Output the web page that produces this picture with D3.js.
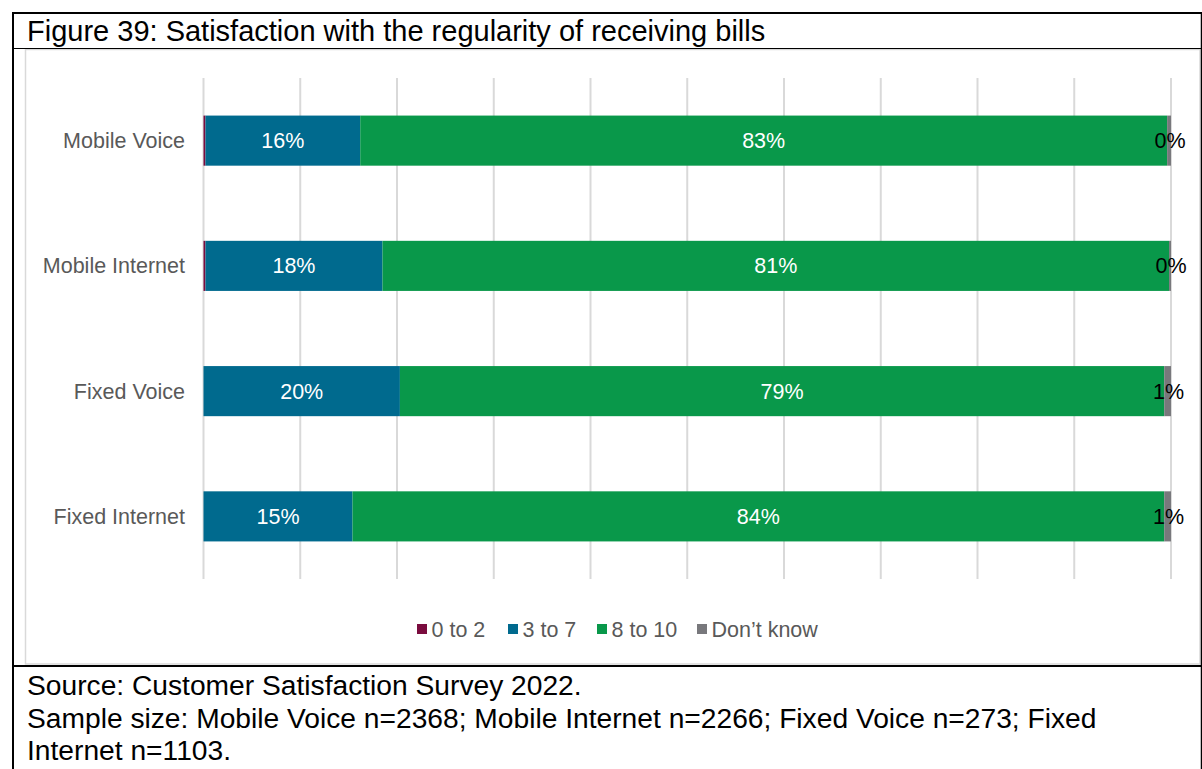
<!DOCTYPE html>
<html>
<head>
<meta charset="utf-8">
<script src="https://cdn.jsdelivr.net/npm/d3@7"></script>
<style>
  html, body { margin: 0; padding: 0; background: #fff; }
  svg { display: block; font-family: "Liberation Sans", Arial, sans-serif; }
</style>
</head>
<body>
<svg id="chart" width="1202" height="769"></svg>
<script>
// ---- data ----
const categories = ["Mobile Voice", "Mobile Internet", "Fixed Voice", "Fixed Internet"];
const seriesNames = ["0 to 2", "3 to 7", "8 to 10", "Don\u2019t know"];
const series0to2   = [0.2, 0.2, 0.0, 0.0];
const series3to7   = [16.0, 18.3, 20.3, 15.4];
const series8to10  = [83.4, 81.3, 79.0, 83.9];
const seriesDK     = [0.4, 0.2, 0.7, 0.7];
const xTicks = [0, 10, 20, 30, 40, 50, 60, 70, 80, 90, 100];
const titleText = "Figure 39: Satisfaction with the regularity of receiving bills";
const footerLines = [
  "Source: Customer Satisfaction Survey 2022.",
  "Sample size: Mobile Voice n=2368; Mobile Internet n=2266; Fixed Voice n=273; Fixed",
  "Internet n=1103."
];

const colors = ["#7a0c3e", "#006a8e", "#09984a", "#78787c"];
const labelColors = [null, "#ffffff", "#ffffff", "#000000"];

const svg = d3.select("#chart");

// frame
svg.append("rect").attr("x", 0).attr("y", 0).attr("width", 1202).attr("height", 769).attr("fill", "#fff");
// chart area light border
svg.append("rect").attr("x", 25.5).attr("y", 49.5).attr("width", 1174.5).attr("height", 614.5)
  .attr("fill", "none").attr("stroke", "#d9d9d9").attr("stroke-width", 1.5);
// black table lines
const black = "#000";
svg.append("line").attr("x1", 12).attr("x2", 1202).attr("y1", 13).attr("y2", 13).attr("stroke", black).attr("stroke-width", 2);
svg.append("line").attr("x1", 12).attr("x2", 1202).attr("y1", 48.5).attr("y2", 48.5).attr("stroke", black).attr("stroke-width", 1.2);
svg.append("line").attr("x1", 12).attr("x2", 1202).attr("y1", 666).attr("y2", 666).attr("stroke", black).attr("stroke-width", 2);
svg.append("line").attr("x1", 13).attr("x2", 13).attr("y1", 12).attr("y2", 769).attr("stroke", black).attr("stroke-width", 2);
svg.append("line").attr("x1", 1201.5).attr("x2", 1201.5).attr("y1", 12).attr("y2", 769).attr("stroke", black).attr("stroke-width", 1.5);

// title
svg.append("text").attr("x", 27).attr("y", 41).attr("font-size", 29).attr("fill", "#000").text(titleText);

// footer
footerLines.forEach((t, i) => {
  svg.append("text").attr("x", 27).attr("y", 695 + i * 32.5).attr("font-size", 28.2).attr("fill", "#000").text(t);
});

// scales
const x = d3.scaleLinear().domain([0, 100]).range([203.5, 1171]);
const y = d3.scaleBand().domain(categories).range([78, 579]).paddingInner(0.6).paddingOuter(0.3);

// gridlines
svg.append("g").selectAll("line").data(xTicks).join("line")
  .attr("x1", d => x(d)).attr("x2", d => x(d))
  .attr("y1", 78).attr("y2", 579)
  .attr("stroke", "#d9d9d9").attr("stroke-width", 2);

// stack
const rows = categories.map((c, i) => ({
  cat: c,
  "0 to 2": series0to2[i], "3 to 7": series3to7[i], "8 to 10": series8to10[i], "Don\u2019t know": seriesDK[i]
}));
const stacked = d3.stack().keys(seriesNames)(rows);

const g = svg.append("g");
stacked.forEach((s, si) => {
  const sg = g.append("g");
  sg.selectAll("rect").data(s).join("rect")
    .attr("x", d => x(d[0]))
    .attr("y", d => y(d.data.cat))
    .attr("width", d => Math.max(0, x(d[1]) - x(d[0])))
    .attr("height", y.bandwidth())
    .attr("fill", colors[si]);
  if (labelColors[si]) {
    sg.selectAll("text").data(s).join("text")
      .attr("x", d => (x(d[0]) + x(d[1])) / 2 + (si === 3 ? 1 : 0))
      .attr("y", d => y(d.data.cat) + y.bandwidth() / 2 + 7.5)
      .attr("text-anchor", "middle")
      .attr("font-size", 21.5)
      .attr("fill", labelColors[si])
      .text(d => Math.round(d[1] - d[0]) + "%");
  }
});

// category axis labels
const yAxis = d3.axisLeft(y).tickSize(0).tickPadding(0);
const ya = svg.append("g").attr("transform", "translate(185,0)").call(yAxis);
ya.select(".domain").remove();
ya.selectAll("text").attr("font-size", 21.5).attr("fill", "#595959")
  .attr("font-family", "Liberation Sans, Arial, sans-serif").attr("dy", "0.35em");

// legend
const legendItems = [
  { name: seriesNames[0], x: 417 },
  { name: seriesNames[1], x: 508 },
  { name: seriesNames[2], x: 597 },
  { name: seriesNames[3], x: 697 }
];
const lg = svg.append("g");
legendItems.forEach((it, i) => {
  lg.append("rect").attr("x", it.x).attr("y", 624).attr("width", 10).attr("height", 10).attr("fill", colors[i]);
  lg.append("text").attr("x", it.x + 14.5).attr("y", 637).attr("font-size", 21.5).attr("fill", "#595959").text(it.name);
});
</script>
</body>
</html>
